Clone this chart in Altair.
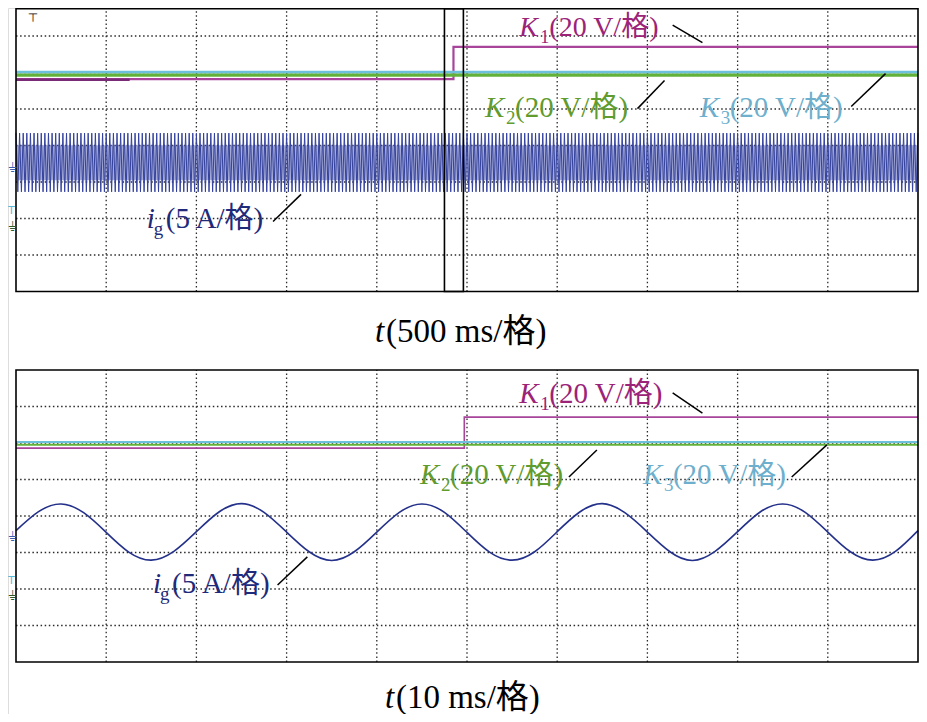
import altair as alt
import pandas as pd

# ---------------- data, in oscilloscope screen divisions ----------------
# x: 0..10 div (left to right), y: -4..4 div about the screen centre line
# Panel (a): t = 500 ms/div
a_k1_x = [0.0, 4.85, 4.85, 10.0]
a_k1_y = [1.82, 1.82, 2.70, 2.70]
a_k1_mark_x = [0.0, 1.26]
a_k1_mark_y = [1.80, 1.80]
a_k2_x = [0.0, 10.0]
a_k2_y = [1.93, 1.93]
a_k3_x = [0.0, 10.0]
a_k3_y = [2.01, 2.01]
a_ig_peak = 0.34          # outer envelope of i_g
a_ig_trough = -1.27
a_ig_core = [0.01, -0.95]  # dense inner band
a_ig_half_cycles = 500    # 50 Hz over 10 div x 500 ms

# Panel (b): t = 10 ms/div
b_k1_x = [0.0, 4.97, 4.97, 10.0]
b_k1_y = [1.86, 1.86, 2.71, 2.71]
b_k2_x = [0.0, 10.0]
b_k2_y = [1.95, 1.95]
b_k3_x = [0.0, 10.0]
b_k3_y = [2.03, 2.03]
b_ig_x = [0.0, 0.25, 0.5, 0.75, 1.0, 1.25, 1.5, 1.75, 2.0, 2.25, 2.5, 2.75, 3.0, 3.25,
          3.5, 3.75, 4.0, 4.25, 4.5, 4.75, 5.0, 5.25, 5.5, 5.75, 6.0, 6.25, 6.5, 6.75,
          7.0, 7.25, 7.5, 7.75, 8.0, 8.25, 8.5, 8.75, 9.0, 9.25, 9.5, 9.75, 10.0]
b_ig_y = [-0.40, 0.12, 0.33, 0.09, -0.45, -0.99, -1.21, -0.97, -0.43, 0.11, 0.34, 0.10,
          -0.44, -0.98, -1.22, -0.98, -0.44, 0.10, 0.33, 0.10, -0.45, -0.99, -1.21, -0.98,
          -0.43, 0.11, 0.34, 0.09, -0.44, -0.98, -1.22, -0.97, -0.43, 0.11, 0.33, 0.10,
          -0.44, -0.98, -1.21, -0.97, -0.40]

grid_x = [1, 2, 3, 4, 5, 6, 7, 8, 9]
grid_y = [-3, -2, -1, 0, 1, 2, 3]

# colours
C_K1_LINE, C_K1_TXT = "#a8459a", "#9b2378"
C_K2_LINE, C_K2_TXT = "#62b23a", "#5f9b2d"
C_K3_LINE, C_K3_TXT = "#6cc0dc", "#6eafcd"
C_IG_LINE, C_IG_TXT = "#24318a", "#1f2a7a"
C_IG_BAND = "#34429e"

# annotations: (italic letter, subscript, rest, x, y, colour, font size)
a_labels = [
    ("K", "1", "(20 V/格)", 5.58, 3.00, C_K1_TXT, 28),
    ("K", "2", "(20 V/格)", 5.20, 0.79, C_K2_TXT, 29),
    ("K", "3", "(20 V/格)", 7.58, 0.79, C_K3_TXT, 29),
    ("i", "g", "(5 A/格)", 1.45, -2.27, C_IG_TXT, 29),
    ("t", "", "(500 ms/格)", 3.98, -5.38, "#000000", 33),
]
a_leaders = [  # x, y, x2, y2
    (7.28, 3.30, 7.61, 2.82),
    (6.89, 1.01, 7.19, 1.78),
    (9.26, 1.07, 9.64, 1.97),
    (2.85, -2.08, 3.16, -1.34),
]
b_labels = [
    ("K", "1", "(20 V/格)", 5.58, 3.10, C_K1_TXT, 29),
    ("K", "2", "(20 V/格)", 4.48, 0.88, C_K2_TXT, 29),
    ("K", "3", "(20 V/格)", 6.95, 0.88, C_K3_TXT, 29),
    ("i", "g", "(5 A/格)", 1.52, -2.11, C_IG_TXT, 29),
    ("t", "", "(10 ms/格)", 4.09, -5.26, "#000000", 33),
]
b_leaders = [
    (7.28, 3.37, 7.61, 2.82),
    (6.13, 1.07, 6.44, 1.81),
    (8.60, 1.07, 8.99, 1.95),
    (2.90, -1.89, 3.23, -1.12),
]
# channel ground markers at the left edge: (symbol, y, colour, size)
a_grounds = [("⏚", -0.62, "#3a5fb0", 13), ("T", -1.80, "#5fb8d6", 11), ("⏚", -2.24, "#2f5a2a", 13)]
b_grounds = [("⏚", -0.58, "#3a5fb0", 13), ("T", -1.78, "#5fb8d6", 11), ("⏚", -2.20, "#2f5a2a", 13)]
a_zoom_box = (4.75, 4.96)
a_trigger = ("⊤", 0.13, 3.38)

# ---------------- layout (pixels of the chart, page minus the 8px margin) ----------------
CW, CH = 911, 706
X_RANGE = [8, 910]             # 0 .. 10 div
A_RANGE = [283.5, -8.5]        # -4 .. 4 div, upper screen
B_RANGE = [654, 362]           # -4 .. 4 div, lower screen
A_TOP = 3.745                  # visible top edge of the upper screen
PX_PER_DIV = (X_RANGE[1] - X_RANGE[0]) / 10
SERIF = "Liberation Serif, Noto Sans CJK SC, serif"
OFFS = {"K": (21, 30), "i": (7, 19), "t": (0, 11)}

X = alt.X("x:Q", scale=alt.Scale(domain=[0, 10], range=X_RANGE, nice=False, zero=False), axis=None)


def yenc(rng):
    return alt.Y("y:Q", scale=alt.Scale(domain=[-4, 4], range=rng, nice=False, zero=False),
                 axis=None)


def line(xs, ys, color, width, Y, interp="linear", opacity=1.0):
    df = pd.DataFrame({"x": xs, "y": ys, "i": list(range(len(xs)))})
    return alt.Chart(df).mark_line(color=color, strokeWidth=width, interpolate=interp,
                                   opacity=opacity).encode(x=X, y=Y, order="i:Q")


def grid_layers(Y, top):
    v = pd.DataFrame({"x": grid_x, "y": [-4] * len(grid_x), "y2": [top] * len(grid_x)})
    h = pd.DataFrame({"y": grid_y, "x": [0] * len(grid_y), "x2": [10] * len(grid_y)})
    style = dict(color="#2a2a2a", strokeWidth=1.3, strokeDash=[1.5, 2.6])
    return [
        alt.Chart(v).mark_rule(**style).encode(x=X, y=Y, y2="y2:Q"),
        alt.Chart(h).mark_rule(**style).encode(y=Y, x=X, x2="x2:Q"),
    ]


def frame_layer(Y, top):
    df = pd.DataFrame([dict(x=0, x2=10, y=-4, y2=top)])
    return alt.Chart(df).mark_rect(fillOpacity=0, stroke="black", strokeWidth=1.6).encode(
        x=X, x2="x2:Q", y=Y, y2="y2:Q")


def text_layers(labels, Y):
    base, sub, rest = [], [], []
    for letter, s, r, x, y, c, fs in labels:
        o_sub, o_rest = OFFS[letter]
        base.append(dict(x=x, y=y, t=letter, c=c, fs=fs))
        if s:
            sub.append(dict(x=x + o_sub / PX_PER_DIV, y=y, t=s, c=c, fs=round(fs * 0.66)))
        rest.append(dict(x=x + o_rest / PX_PER_DIV, y=y, t=r, c=c, fs=fs))
    common = dict(align="left", baseline="alphabetic", font=SERIF)
    e = dict(x=X, y=Y, text="t:N", color=alt.Color("c:N", scale=None),
             size=alt.Size("fs:Q", scale=None))
    return [
        alt.Chart(pd.DataFrame(base)).mark_text(fontStyle="italic", **common).encode(**e),
        alt.Chart(pd.DataFrame(sub)).mark_text(dy=7, **common).encode(**e),
        alt.Chart(pd.DataFrame(rest)).mark_text(**common).encode(**e),
    ]


def leader_layer(leaders, Y):
    df = pd.DataFrame(leaders, columns=["x", "y", "x2", "y2"])
    return alt.Chart(df).mark_rule(color="black", strokeWidth=1.5).encode(
        x=X, y=Y, x2="x2:Q", y2="y2:Q")


def ground_layer(grounds, Y):
    df = pd.DataFrame([dict(x=-8 / PX_PER_DIV, y=y, t=s, c=c, fs=fs) for s, y, c, fs in grounds])
    return alt.Chart(df).mark_text(align="left", baseline="middle", font="DejaVu Sans").encode(
        x=X, y=Y, text="t:N", color=alt.Color("c:N", scale=None),
        size=alt.Size("fs:Q", scale=None))


# ---------------- upper screen (500 ms/div) ----------------
YA = yenc(A_RANGE)
ig_a_x = [k * 10.0 / a_ig_half_cycles for k in range(a_ig_half_cycles + 1)]
ig_a_y = [a_ig_peak if k % 2 == 0 else a_ig_trough for k in range(a_ig_half_cycles + 1)]

core_df = pd.DataFrame([dict(x=0, x2=10, y=a_ig_core[0], y2=a_ig_core[1])])
core = alt.Chart(core_df).mark_rect(color="#5c66b4", opacity=0.55).encode(
    x=X, x2="x2:Q", y=YA, y2="y2:Q")

zoom_df = pd.DataFrame([dict(x=a_zoom_box[0], x2=a_zoom_box[1], y=-4, y2=A_TOP)])
zoom_rect = alt.Chart(zoom_df).mark_rect(fillOpacity=0, stroke="black", strokeWidth=1.6).encode(
    x=X, x2="x2:Q", y=YA, y2="y2:Q")

trig_df = pd.DataFrame([dict(t=a_trigger[0], x=a_trigger[1], y=a_trigger[2])])
trig = alt.Chart(trig_df).mark_text(align="left", baseline="alphabetic", font="DejaVu Sans",
                                    fontSize=12, color="black").encode(x=X, y=YA, text="t:N")

upper = [
    *grid_layers(YA, 4),
    core,
    line(ig_a_x, ig_a_y, C_IG_BAND, 1.0, YA),
    line(a_k1_x, a_k1_y, C_K1_LINE, 2.2, YA),
    line(a_k1_mark_x, a_k1_mark_y, "#7b2a78", 2.6, YA),
    line(a_k3_x, a_k3_y, C_K3_LINE, 2.6, YA),
    line(a_k2_x, a_k2_y, C_K2_LINE, 3.2, YA),
    frame_layer(YA, A_TOP),
    zoom_rect,
    leader_layer(a_leaders, YA),
    ground_layer(a_grounds, YA),
    trig,
    *text_layers(a_labels, YA),
]

# ---------------- lower screen (10 ms/div) ----------------
YB = yenc(B_RANGE)
lower = [
    *grid_layers(YB, 4),
    line(b_k1_x, b_k1_y, C_K1_LINE, 1.6, YB),
    line(b_k3_x, b_k3_y, C_K3_LINE, 2.0, YB),
    line(b_k2_x, b_k2_y, C_K2_LINE, 2.0, YB),
    line(b_ig_x, b_ig_y, C_IG_LINE, 1.6, YB, interp="natural"),
    frame_layer(YB, 4),
    leader_layer(b_leaders, YB),
    ground_layer(b_grounds, YB),
    *text_layers(b_labels, YB),
]

chart = alt.layer(*upper, *lower).resolve_scale(y="independent").properties(
    width=CW, height=CH, padding=0, autosize=alt.AutoSizeParams(type="none")
).configure_view(strokeWidth=0).configure(background="white")

chart.save("out.html", embed_options={"renderer": "svg", "actions": False})
